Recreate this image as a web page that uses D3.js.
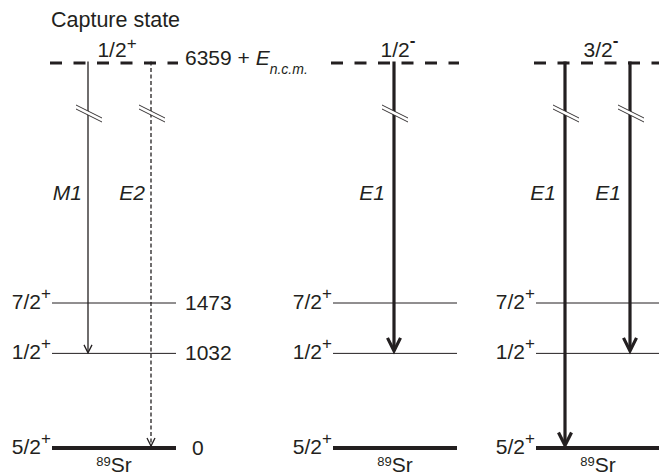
<!DOCTYPE html>
<meta charset="utf-8">
<head>
    <style>
        body { margin: 0; background: #fff; }
        text { font-family: "Liberation Sans", Arial, sans-serif; fill: #231f20; }
        .mult { font-style: italic; }
    </style>
    <script src="https://d3js.org/d3.v7.min.js"></script>
</head>
<body>
<svg id="scheme"></svg>
<script>

    // capture states (one per panel)
    var captureSpins = ["1/2", "1/2", "3/2"];
    var captureParities = ["+", "-", "-"];
    var captureEnergy = "6359";

    // final levels of 89Sr
    var levelSpins = ["7/2", "1/2", "5/2"];
    var levelParities = ["+", "+", "+"];
    var levelEnergies = [1473, 1032, 0];

    // gamma transitions
    var transPanel = [0, 0, 1, 2, 2];
    var transType = ["M1", "E2", "E1", "E1", "E1"];
    var transTo = [1032, 0, 1032, 0, 1032];

    var nucleus = {mass: "89", symbol: "Sr"};

    // layout
    var width = 659, height = 476;
    var panelX = [52, 333, 536], panelW = 124;
    var transX = [36, 99, 61, 29, 94];
    var captureY = 63, breakY = 113, multY = 200;
    var ink = "#231f20";
    var fs = "21px";

    var svg = d3.select("#scheme")
        .attr("width", width)
        .attr("height", height);

    var y = d3.scalePow()
        .exponent(1.2)
        .domain([0, d3.max(levelEnergies)])
        .range([448, 303]);

    var transitions = transType.map(function(t, i){
        return {type: t, panel: transPanel[i], to: transTo[i], x: panelX[transPanel[i]] + transX[i]};
    });

    // "Capture state" title
    svg.append("text")
        .attr("x", 51).attr("y", 27)
        .style("font-size", "21.5px")
        .text("Capture state");

    // capture state lines (dashed)
    svg.append("g").selectAll("line")
        .data(captureSpins)
        .enter().append("line")
        .attr("x1", function(d, i){ return panelX[i] - 2; })
        .attr("x2", function(d, i){ return panelX[i] + panelW + 2; })
        .attr("y1", captureY).attr("y2", captureY)
        .style("stroke", ink)
        .style("stroke-width", 3.2)
        .style("stroke-dasharray", "12,11.5");

    // capture spin labels
    var capLab = svg.append("g").selectAll("text")
        .data(captureSpins)
        .enter().append("text")
        .attr("x", function(d, i){ return panelX[i] + panelW / 2 + 3; })
        .attr("y", 57)
        .attr("text-anchor", "middle")
        .style("font-size", fs);
    capLab.append("tspan").text(function(d){ return d; });
    capLab.append("tspan")
        .attr("dy", function(d, i){ return captureParities[i] == "+" ? -8 : -11; })
        .style("font-size", "17px")
        .style("font-weight", function(d, i){ return captureParities[i] == "+" ? "normal" : "bold"; })
        .text(function(d, i){ return captureParities[i]; });

    // capture energy
    var capE = svg.append("text")
        .attr("x", 185).attr("y", 65)
        .style("font-size", fs);
    capE.append("tspan").text(captureEnergy + " + ");
    capE.append("tspan").attr("class", "mult").text("E");
    capE.append("tspan").attr("class", "mult")
        .attr("dy", 9).style("font-size", "14px").text("n.c.m.");

    // final levels, one group per panel
    var panels = svg.selectAll(".panel")
        .data(panelX)
        .enter().append("g")
        .attr("class", "panel")
        .attr("transform", function(d){ return "translate(" + d + ",0)"; });

    panels.selectAll("line")
        .data(levelEnergies)
        .enter().append("line")
        .attr("x1", 0).attr("x2", panelW)
        .attr("y1", function(d){ return y(d); })
        .attr("y2", function(d){ return y(d); })
        .style("stroke", ink)
        .style("stroke-width", function(d){ return d == 0 ? 4 : 1; });

    var lvLab = panels.selectAll(".spin")
        .data(levelEnergies)
        .enter().append("text")
        .attr("class", "spin")
        .attr("x", -1)
        .attr("y", function(d){ return y(d) + 6; })
        .attr("text-anchor", "end")
        .style("font-size", fs);
    lvLab.append("tspan").text(function(d, i){ return levelSpins[i]; });
    lvLab.append("tspan")
        .attr("dy", -10)
        .style("font-size", "17px")
        .text(function(d, i){ return levelParities[i]; });

    // nucleus label under ground state
    var nucLab = panels.append("text")
        .attr("x", panelW / 2)
        .attr("y", 472)
        .attr("text-anchor", "middle")
        .style("font-size", fs);
    nucLab.append("tspan").attr("dy", -6).style("font-size", "13px").text(nucleus.mass);
    nucLab.append("tspan").attr("dy", 6).text(nucleus.symbol);

    // level energies (first panel only)
    svg.append("g").selectAll("text")
        .data(levelEnergies)
        .enter().append("text")
        .attr("x", function(d){ return panelX[0] + panelW + (d == 0 ? 16 : 9); })
        .attr("y", function(d){ return y(d) + 7; })
        .style("font-size", fs)
        .text(function(d){ return d; });

    // transitions
    var tg = svg.append("g").selectAll("g")
        .data(transitions)
        .enter().append("g");

    function thick(d){ return d.type == "E1"; }

    tg.append("line")
        .attr("x1", function(d){ return d.x; })
        .attr("x2", function(d){ return d.x; })
        .attr("y1", captureY - 1.5)
        .attr("y2", function(d){ return y(d.to) - (thick(d) ? 4 : 1); })
        .style("stroke", ink)
        .style("stroke-width", function(d){ return thick(d) ? 3.2 : 1.3; })
        .style("stroke-dasharray", function(d){ return d.type == "E2" ? "4,2.5" : null; });

    // arrow heads
    tg.append("path")
        .attr("d", function(d){
            var tip = y(d.to) - (thick(d) ? 2.5 : (d.to == 0 ? 2 : 0.5));
            var hw = thick(d) ? 6.5 : 4, hh = thick(d) ? 13 : 8;
            return "M" + (d.x - hw) + "," + (tip - hh) + "L" + d.x + "," + tip + "L" + (d.x + hw) + "," + (tip - hh);
        })
        .style("fill", "none")
        .style("stroke", ink)
        .style("stroke-width", function(d){ return thick(d) ? 3.2 : 1.3; });

    // break marks
    tg.append("path")
        .attr("d", function(d){
            return "M" + (d.x - 12) + "," + (breakY - 8) + "L" + (d.x + 14) + "," + (breakY + 5) +
                "L" + (d.x + 14) + "," + (breakY + 9) + "L" + (d.x - 12) + "," + (breakY - 4) + "Z";
        })
        .style("fill", "#fff");
    [-2, 2].forEach(function(off){
        tg.append("line")
            .attr("x1", function(d){ return d.x - 12; })
            .attr("x2", function(d){ return d.x + 14; })
            .attr("y1", breakY + off - 6)
            .attr("y2", breakY + off + 7)
            .style("stroke", ink)
            .style("stroke-width", 0.9);
    });

    // multipolarity labels
    tg.append("text")
        .attr("class", "mult")
        .attr("x", function(d){ return d.x - (thick(d) ? 9 : 6); })
        .attr("y", multY)
        .attr("text-anchor", "end")
        .style("font-size", fs)
        .text(function(d){ return d.type; });

</script>
</body>
